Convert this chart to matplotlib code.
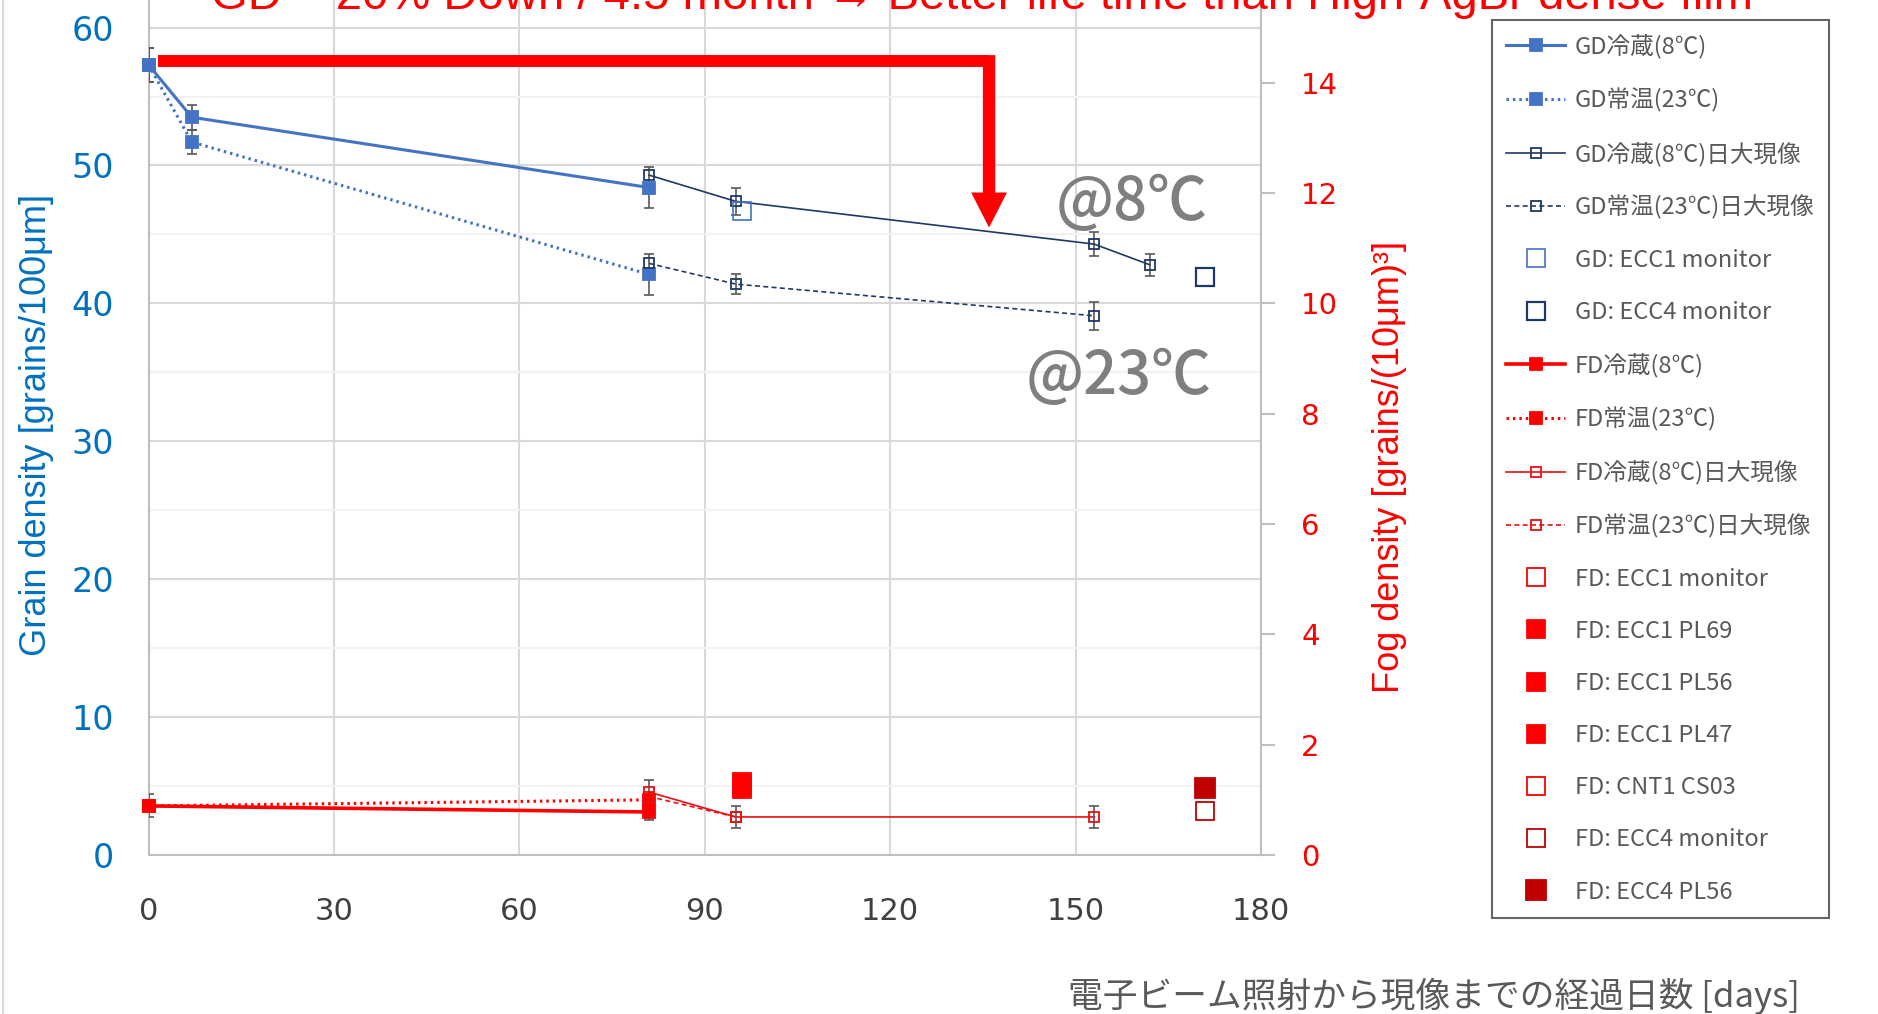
import matplotlib.pyplot as plt
from matplotlib.lines import Line2D
from matplotlib.ticker import MultipleLocator
import numpy as np

# Grain density (left axis, grains/100um)
gd_cold_days = [0, 7, 81]
gd_cold = [57.3, 53.5, 48.4]
gd_cold_err = [1.25, 0.9, 1.5]
gd_warm_days = [0, 7, 81]
gd_warm = [57.3, 51.7, 42.1]
gd_warm_err = [1.25, 0.85, 1.5]

gd_cold_nd_days = [81, 95, 153, 162]
gd_cold_nd = [49.3, 47.4, 44.3, 42.8]
gd_cold_nd_err = [0, 1.0, 0.85, 0.8]
gd_warm_nd_days = [81, 95, 153]
gd_warm_nd = [42.9, 41.4, 39.1]
gd_warm_nd_err = [0, 0.7, 1.0]

gd_ecc1_mon_day, gd_ecc1_mon = [96], [46.7]
gd_ecc4_mon_day, gd_ecc4_mon = [171], [41.9]

# Fog density (right axis, grains/(10um)^3)
fd_cold_days = [0, 81]
fd_cold = [0.89, 0.78]
fd_warm_days = [0, 81]
fd_warm = [0.89, 1.00]
fd_warm_err = [0.21, 0.36]
fd_cold_nd_days = [81, 95, 153]
fd_cold_nd = [1.14, 0.69, 0.69]
fd_cold_nd_err = [0, 0.2, 0.2]
fd_warm_nd_days = [81, 95]
fd_warm_nd = [1.06, 0.69]

fd_ecc1_day = [96]
fd_ecc1_mon = [1.25]
fd_ecc1_pl69 = [1.33]
fd_ecc1_pl56 = [1.27]
fd_ecc1_pl47 = [1.20]
fd_cnt1_cs03 = [1.28]
fd_ecc4_day = [171]
fd_ecc4_mon = [0.80]
fd_ecc4_pl56 = [1.21]

x_ticks = [0, 30, 60, 90, 120, 150, 180]

BLUE = '#4472C4'
NAVY = '#203864'
RED = '#FF0000'
DRED = '#C00000'
ERR = '#595959'

fig = plt.figure(figsize=(18.78, 10.14), dpi=100)
ax = fig.add_axes([148.5 / 1878, 159 / 1014, 1112.5 / 1878, 855 / 1014])
ax2 = ax.twinx()

ax.set_xlim(0, 180)
ax.set_ylim(0, 62)
ax2.set_ylim(0, 15.5)


def errbars(a, days, vals, err):
    d = np.array(days, float)
    v = np.array(vals, float)
    e = np.array(err, float)
    m = e > 0
    a.errorbar(d[m], v[m], yerr=e[m], fmt='none', ecolor=ERR, elinewidth=1.2,
               capsize=3.8, capthick=1.2, zorder=3)


def series(a, days, vals, color, ls, lw, ms, filled, label, mew=1.3):
    a.plot(days, vals, color=color, ls=ls, lw=lw, marker='s', ms=ms,
           mfc=color if filled else 'none', mec=color, mew=mew,
           label=label, clip_on=False, zorder=4)


# GD
errbars(ax, gd_cold_days, gd_cold, gd_cold_err)
errbars(ax, gd_warm_days, gd_warm, gd_warm_err)
errbars(ax, gd_cold_nd_days, gd_cold_nd, gd_cold_nd_err)
errbars(ax, gd_warm_nd_days, gd_warm_nd, gd_warm_nd_err)
series(ax, gd_cold_days, gd_cold, BLUE, '-', 2.2, 8.5, True, 'GD冷蔵(8℃)')
series(ax, gd_warm_days, gd_warm, BLUE, (0, (0.8, 1.3)), 2.2, 8.5, True, 'GD常温(23℃)')
series(ax, gd_cold_nd_days, gd_cold_nd, NAVY, '-', 1.2, 7, False, 'GD冷蔵(8℃)日大現像')
series(ax, gd_warm_nd_days, gd_warm_nd, NAVY, (0, (3, 2)), 1.2, 7, False, 'GD常温(23℃)日大現像')
series(ax, gd_ecc1_mon_day, gd_ecc1_mon, BLUE, 'none', 1, 13, False, 'GD: ECC1 monitor', 1.2)
series(ax, gd_ecc4_mon_day, gd_ecc4_mon, NAVY, 'none', 1, 13.5, False, 'GD: ECC4 monitor', 1.6)

# FD
errbars(ax2, fd_warm_days, fd_warm, fd_warm_err)
errbars(ax2, fd_cold_nd_days, fd_cold_nd, fd_cold_nd_err)
series(ax2, fd_cold_days, fd_cold, RED, '-', 2.6, 8.5, True, 'FD冷蔵(8℃)')
series(ax2, fd_warm_days, fd_warm, RED, (0, (0.8, 1.3)), 2.2, 8.5, True, 'FD常温(23℃)')
series(ax2, fd_cold_nd_days, fd_cold_nd, '#E81010', '-', 1.2, 7, False, 'FD冷蔵(8℃)日大現像')
series(ax2, fd_warm_nd_days, fd_warm_nd, '#E81010', (0, (3, 2)), 1.2, 7, False, 'FD常温(23℃)日大現像')
series(ax2, fd_ecc1_day, fd_ecc1_mon, RED, 'none', 1, 13.5, False, 'FD: ECC1 monitor')
series(ax2, fd_ecc1_day, fd_ecc1_pl69, RED, 'none', 1, 13.5, True, 'FD: ECC1 PL69')
series(ax2, fd_ecc1_day, fd_ecc1_pl56, RED, 'none', 1, 13.5, True, 'FD: ECC1 PL56')
series(ax2, fd_ecc1_day, fd_ecc1_pl47, RED, 'none', 1, 13.5, True, 'FD: ECC1 PL47')
series(ax2, fd_ecc1_day, fd_cnt1_cs03, RED, 'none', 1, 13.5, False, 'FD: CNT1 CS03')
series(ax2, fd_ecc4_day, fd_ecc4_mon, DRED, 'none', 1, 13.5, False, 'FD: ECC4 monitor')
series(ax2, fd_ecc4_day, fd_ecc4_pl56, DRED, 'none', 1, 14, True, 'FD: ECC4 PL56')

# grid and axes styling
ax.set_xticks(x_ticks)
ax.yaxis.set_major_locator(MultipleLocator(10))
ax.yaxis.set_minor_locator(MultipleLocator(5))
ax.set_yticks(range(0, 61, 10))
ax.grid(True, which='major', color='#D9D9D9', lw=1.5)
ax.grid(True, which='minor', axis='y', color='#F2F2F2', lw=1.5)
ax.set_axisbelow(True)
for sp in ['top', 'right']:
    ax.spines[sp].set_visible(False)
for sp in ['left', 'bottom']:
    ax.spines[sp].set_color('#BFBFBF')
    ax.spines[sp].set_linewidth(1.5)
ax2.spines['top'].set_visible(False)
ax2.spines['left'].set_visible(False)
ax2.spines['bottom'].set_visible(False)
ax2.spines['right'].set_color('#BFBFBF')
ax2.spines['right'].set_linewidth(1.5)

ax.tick_params(axis='y', which='both', length=0, pad=25, labelsize=24, labelcolor='#0070C0')
ax.tick_params(axis='x', length=0, pad=30, labelsize=22, labelcolor='#404040')
ax2.set_yticks(range(0, 15, 2))
ax2.tick_params(axis='y', length=10, width=1.5, color='#BFBFBF', pad=19,
                labelsize=21, labelcolor=RED)

ax.set_ylabel('Grain density [grains/100μm]', color='#0070C0', fontsize=26,
              family=['Liberation Sans', 'DejaVu Sans'])
ax.yaxis.set_label_coords(-0.085, 0.503)
ax2.set_ylabel('Fog density [grains/(10μm)³]', color=RED, fontsize=26,
               family=['Liberation Sans', 'DejaVu Sans'])
ax2.yaxis.set_label_coords(1.100, 0.454)

# arrow annotation
ax.plot([1.6, 136], [57.56, 57.56], color=RED, lw=8.6, solid_capstyle='butt', zorder=6)
ax.arrow(136, 58.0, 0, -12.5, width=2.0, head_width=5.8, head_length=2.54,
         length_includes_head=True, color=RED, lw=0, zorder=6)

ax.text(159, 47.3, '@8℃', fontsize=43, color='#7F7F7F', ha='center', va='center',
        family=['Noto Sans CJK JP'], fontweight='medium', zorder=7)
ax.text(157, 34.7, '@23℃', fontsize=43, color='#7F7F7F', ha='center', va='center',
        family=['Noto Sans CJK JP'], fontweight='medium', zorder=7)

fig.text(0.523, 0.991, 'GD ~ 20% Down / 4.5 month → Better life time than High-AgBr dense film',
         color=RED, fontsize=34, ha='center', va='baseline',
         family=['Liberation Sans', 'DejaVu Sans'])

fig.text(0.7636, 0.0178, '電子ビーム照射から現像までの経過日数 [days]', color='#595959',
         fontsize=25, ha='center', va='center', family=['Noto Sans CJK JP', 'DejaVu Sans'])

fig.add_artist(Line2D([0.0015, 0.0015], [0, 1], transform=fig.transFigure,
                      color='#D9D9D9', lw=1.5))

h1, l1 = ax.get_legend_handles_labels()
h2, l2 = ax2.get_legend_handles_labels()
leg = fig.legend(h1 + h2, l1 + l2, loc='upper left',
                 bbox_to_anchor=(1492 / 1878, 1 - 20 / 1014), borderaxespad=0,
                 frameon=True, fancybox=False, edgecolor='#404040',
                 prop={'family': ['Noto Sans CJK JP', 'DejaVu Sans'], 'size': 17},
                 labelcolor='#595959', handlelength=2.5, handletextpad=0.4,
                 labelspacing=1.235, borderpad=0.6, numpoints=1)
leg.get_frame().set_linewidth(1.5)

fig.savefig('out.png', dpi=100)
